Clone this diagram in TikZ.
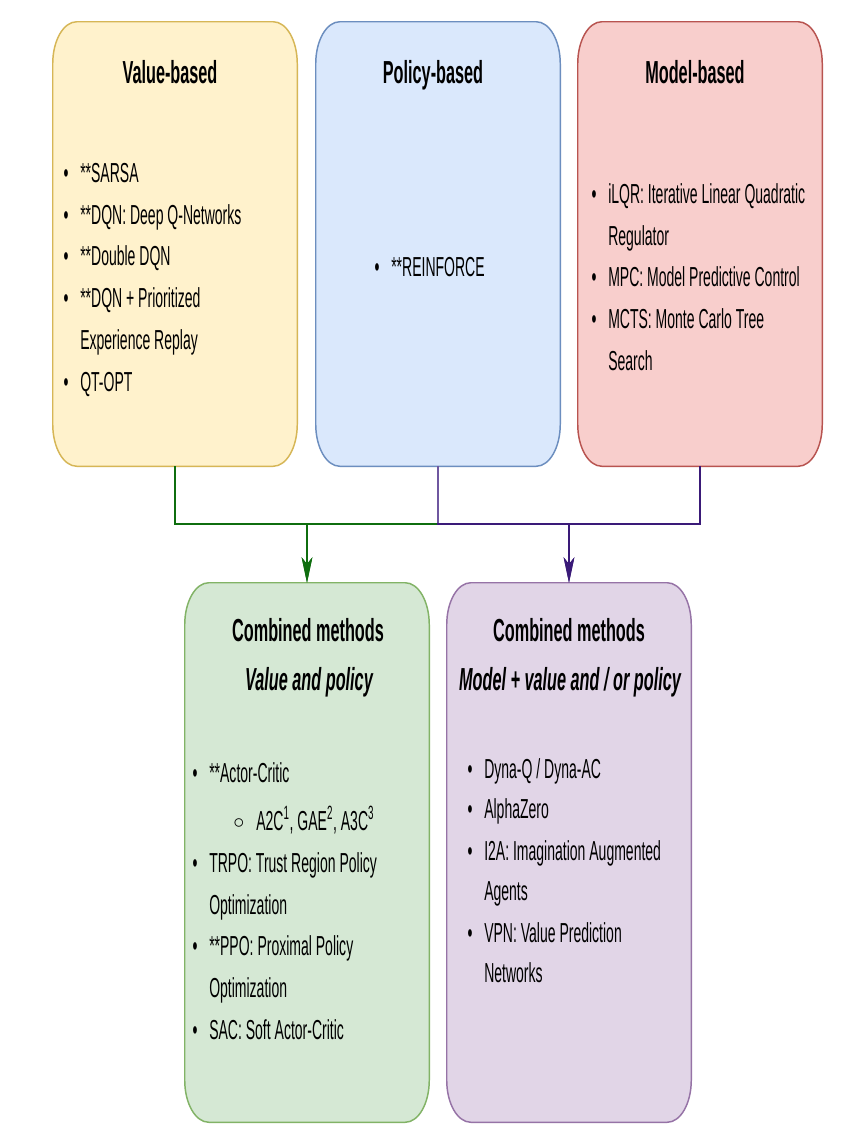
\documentclass[tikz,border=0pt]{standalone}
\usepackage{fontspec}
\setmainfont{Liberation Sans}[FakeStretch=0.51]
\usetikzlibrary{calc,arrows.meta}
\definecolor{yfill}{HTML}{FFF2CC}\definecolor{ydraw}{HTML}{D6B656}
\definecolor{bfill}{HTML}{DAE8FC}\definecolor{bdraw}{HTML}{6C8EBF}
\definecolor{rfill}{HTML}{F8CECC}\definecolor{rdraw}{HTML}{B85450}
\definecolor{gfill}{HTML}{D5E8D4}\definecolor{gdraw}{HTML}{82B366}
\definecolor{pfill}{HTML}{E1D5E7}\definecolor{pdraw}{HTML}{9673A6}
\definecolor{gedge}{HTML}{0F6E0F}\definecolor{pedge}{HTML}{3A1A78}
\definecolor{pedgel}{HTML}{6F57A0}
\newcommand\bul{\llap{\textbullet\hspace{8.8pt}}}
\newcommand\subbul{\llap{\raisebox{1pt}{\scalebox{0.8}{$\circ$}}\hspace{8.8pt}}}
\newcommand\roundbox[2]{%
  \draw[#2] ($(#1.north west)+(24,0)$) -- ($(#1.north east)+(-24,0)$)
    arc[start angle=90,end angle=0,x radius=18pt,y radius=31.5pt]
    -- ($(#1.south east)+(0,-42)$)
    arc[start angle=0,end angle=-90,x radius=18pt,y radius=31.5pt]
    -- ($(#1.south west)+(24,0)$)
    arc[start angle=-90,end angle=-180,x radius=18pt,y radius=31.5pt]
    -- ($(#1.north west)+(0,42)$)
    arc[start angle=180,end angle=90,x radius=18pt,y radius=31.5pt] -- cycle;}
\begin{document}
\begin{tikzpicture}[x=0.75pt,y=-0.75pt,
  boxn/.style={inner sep=0pt,minimum width=183pt},
  topbox/.style={boxn,minimum height=333pt},
  botbox/.style={boxn,minimum height=404.25pt},
  title/.style={anchor=base,inner sep=0pt,font=\fontsize{23.9pt}{28pt}\selectfont\bfseries},
  item/.style={anchor=base west,inner sep=0pt,font=\fontsize{20.6pt}{24pt}\selectfont},
  gline/.style={draw=gedge,line width=1.4pt},
  pline/.style={draw=pedge,line width=1.4pt},
  tip/.style={-{Stealth[length=19pt,width=8pt,inset=5pt]}}]
\useasboundingbox (0,0) rectangle (856,1136);
\fill[white] (0,0) rectangle (856,1136);
% box anchors
\node[topbox] (vb) at (175,244) {};
\node[topbox] (pb) at (438,244) {};
\node[topbox] (mb) at (700,244) {};
\node[botbox] (cv) at (307,852.5) {};
\node[botbox] (cm) at (569,852.5) {};
\roundbox{vb}{fill=yfill,draw=ydraw,line width=1.1pt}
\roundbox{pb}{fill=bfill,draw=bdraw,line width=1.1pt}
\roundbox{mb}{fill=rfill,draw=rdraw,line width=1.1pt}
\roundbox{cv}{fill=gfill,draw=gdraw,line width=1.1pt}
\roundbox{cm}{fill=pfill,draw=pdraw,line width=1.1pt}
% connectors
\draw[gline,tip] (vb.south) -- ++(0,58) -| (cv.north);
\draw[gline,tip] (pb.south) -- ++(0,58) -| (cv.north);
\draw[pline,tip] (mb.south) -- ++(0,58) -| (cm.north);
\draw[pline,tip] (pb.south) -- ++(0,58) -| (cm.north);
\draw[draw=pedgel,line width=1.3pt] (pb.south) -- ++(0,57);
% titles
\node[title] (vbt) at (170,83) {Value-based};
\node[title] (pbt) at (433,83) {Policy-based};
\node[title] (mbt) at (695,83) {Model-based};
\node[title] (cvt) at (308,641) {Combined methods};
\node[title] (cvs) at (309,690) {\itshape Value and policy};
\node[title] (cmt) at (569,641) {Combined methods};
\node[title] (cms) at (570,690) {\itshape Model + value and / or policy};
% value-based items
\node[item] (v1) at (80,182) {\bul **SARSA};
\node[item] (v2) at (80,224) {\bul **DQN: Deep Q-Networks};
\node[item] (v3) at (80,265) {\bul **Double DQN};
\node[item] (v4) at (80,307) {\bul **DQN + Prioritized};
\node[item] (v5) at (80,349) {Experience Replay};
\node[item] (v6) at (80,391) {\bul QT-OPT};
% policy-based
\node[item] (p1) at (391,276) {\bul **REINFORCE};
% model-based
\node[item] (m1) at (608,203) {\bul iLQR: Iterative Linear Quadratic};
\node[item] (m2) at (608,245) {Regulator};
\node[item] (m3) at (608,286) {\bul MPC: Model Predictive Control};
\node[item] (m4) at (608,328) {\bul MCTS: Monte Carlo Tree};
\node[item] (m5) at (608,370) {Search};
% combined value/policy
\node[item] (c1) at (209,782) {\bul **Actor-Critic};
\node[item] (c2) at (256,830) {\subbul A2C\textsuperscript{1}, GAE\textsuperscript{2}, A3C\textsuperscript{3}};
\node[item] (c3) at (209,872) {\bul TRPO: Trust Region Policy};
\node[item] (c4) at (209,914) {Optimization};
\node[item] (c5) at (209,955) {\bul **PPO: Proximal Policy};
\node[item] (c6) at (209,997) {Optimization};
\node[item] (c7) at (209,1039) {\bul SAC: Soft Actor-Critic};
% combined model
\node[item] (d1) at (484,778) {\bul Dyna-Q / Dyna-AC};
\node[item] (d2) at (484,818) {\bul AlphaZero};
\node[item] (d3) at (484,860) {\bul I2A: Imagination Augmented};
\node[item] (d4) at (484,900) {Agents};
\node[item] (d5) at (484,942) {\bul VPN: Value Prediction};
\node[item] (d6) at (484,982) {Networks};
\end{tikzpicture}
\end{document}
